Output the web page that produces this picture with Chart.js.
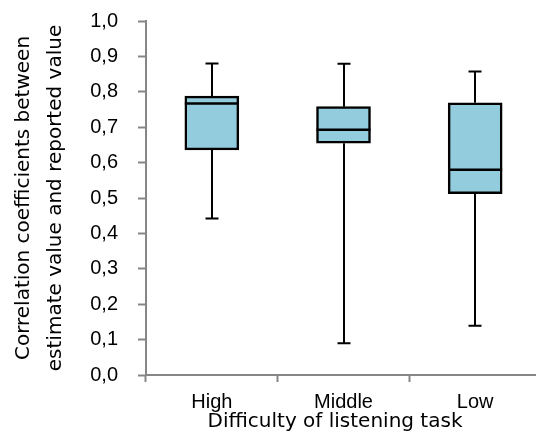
<!DOCTYPE html>
<html>
<head>
<meta charset="utf-8">
<script src="https://cdn.jsdelivr.net/npm/chart.js@4"></script>
<style>
  html, body { margin: 0; padding: 0; background: #fff; overflow: hidden; }
</style>
</head>
<body>
<canvas id="grafico" width="541" height="443"></canvas>
<script>
const categorias = ['High', 'Middle', 'Low'];
const minimos = [0.442, 0.090, 0.139];
const quartil1 = [0.636, 0.655, 0.512];
const medianas = [0.767, 0.693, 0.580];
const quartil3 = [0.788, 0.758, 0.769];
const maximos = [0.880, 0.879, 0.857];
const ticksY = [0, 0.1, 0.2, 0.3, 0.4, 0.5, 0.6, 0.7, 0.8, 0.9, 1.0];
const tituloX = 'Difficulty of listening task';

const cinza = '#868686';

// whiskers before the boxes, medians after
const bigodes = {
  id: 'bigodes',
  beforeDatasetsDraw(chart) {
    const { ctx, scales: { x, y } } = chart;
    ctx.save();
    ctx.strokeStyle = '#000';
    ctx.lineWidth = 2;
    categorias.forEach((c, i) => {
      const px = Math.round(x.getPixelForValue(i));
      const topo = y.getPixelForValue(maximos[i]);
      const base = y.getPixelForValue(minimos[i]);
      ctx.beginPath();
      ctx.moveTo(px, topo);
      ctx.lineTo(px, y.getPixelForValue(quartil3[i]));
      ctx.moveTo(px, y.getPixelForValue(quartil1[i]));
      ctx.lineTo(px, base);
      ctx.moveTo(px - 6.5, topo);
      ctx.lineTo(px + 6.5, topo);
      ctx.moveTo(px - 6.5, base);
      ctx.lineTo(px + 6.5, base);
      ctx.stroke();
    });
    ctx.restore();
  },
  afterDatasetsDraw(chart) {
    const { ctx, scales: { y } } = chart;
    ctx.save();
    ctx.strokeStyle = '#000';
    ctx.lineWidth = 2.5;
    chart.getDatasetMeta(0).data.forEach((barra, i) => {
      const py = y.getPixelForValue(medianas[i]);
      ctx.beginPath();
      ctx.moveTo(barra.x - barra.width / 2, py);
      ctx.lineTo(barra.x + barra.width / 2, py);
      ctx.stroke();
    });
    ctx.restore();
  },
  afterDraw(chart) {
    // x title sits a little left of the plot centre in the original
    const { ctx, chartArea } = chart;
    ctx.save();
    ctx.fillStyle = '#000';
    ctx.font = '20px "DejaVu Sans"';
    ctx.textAlign = 'center';
    ctx.textBaseline = 'middle';
    ctx.fillText(tituloX, chartArea.left + 189, chartArea.bottom + 47);
    ctx.restore();
  }
};

const ctx = document.getElementById('grafico').getContext('2d');
new Chart(ctx, {
  type: 'bar',
  data: {
    labels: categorias,
    datasets: [{
      data: quartil1.map((q, i) => [q, quartil3[i]]),
      backgroundColor: '#93CDDD',
      borderColor: '#000',
      borderWidth: 2.5,
      borderSkipped: false,
      barThickness: 54
    }]
  },
  options: {
    responsive: false,
    animation: false,
    layout: { padding: { top: 21, left: 0, right: 0, bottom: 0 } },
    plugins: {
      legend: { display: false },
      tooltip: { enabled: false }
    },
    scales: {
      x: {
        afterFit: s => { s.height = 68; },
        grid: {
          drawOnChartArea: false,
          tickLength: 7,
          tickColor: cinza,
          tickWidth: 2
        },
        border: { color: cinza, width: 2 },
        ticks: {
          color: '#000',
          padding: 8,
          font: { family: 'Liberation Sans', size: 20 }
        }
      },
      y: {
        min: 0,
        max: 1,
        afterFit: s => {
          s.width = 146;
          s.paddingTop = 0;
          s.paddingBottom = 0;
        },
        afterBuildTicks: s => { s.ticks = ticksY.map(v => ({ value: v })); },
        grid: {
          drawOnChartArea: false,
          tickLength: 8,
          tickColor: cinza,
          tickWidth: 2
        },
        border: { color: cinza, width: 2 },
        ticks: {
          color: '#000',
          padding: 20,
          font: { family: 'Liberation Sans', size: 20 },
          callback: v => v.toFixed(1).replace('.', ',')
        },
        title: {
          display: true,
          text: ['Correlation coefficients between', 'estimate value and reported value'],
          color: '#000',
          font: { family: 'DejaVu Sans', size: 20, lineHeight: 1.6 },
          padding: { top: 8, bottom: 0 }
        }
      }
    }
  },
  plugins: [bigodes]
});
</script>
</body>
</html>
